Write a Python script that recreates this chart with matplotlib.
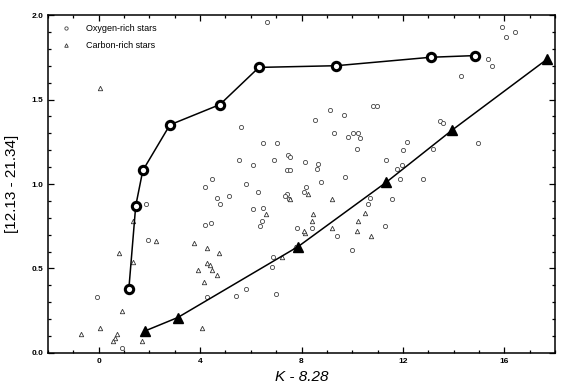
import numpy as np
import matplotlib
matplotlib.use("Agg")
import matplotlib.pyplot as plt
from matplotlib.ticker import MultipleLocator

plt.rcParams['font.family'] = ['Liberation Sans', 'DejaVu Sans']

# upper envelope (oxygen-rich) and lower envelope (carbon-rich)
o_line_x = [1.19, 1.46, 1.74, 2.81, 4.78, 6.32, 9.37, 13.10, 14.86]
o_line_y = [0.38, 0.87, 1.08, 1.35, 1.47, 1.69, 1.70, 1.75, 1.76]
c_line_x = [1.82, 3.12, 7.87, 11.34, 13.95, 17.70]
c_line_y = [0.13, 0.21, 0.63, 1.01, 1.32, 1.74]

# oxygen-rich stars
ox = [6.64, 15.89, 16.05, 16.44, 15.34, 15.53, 14.31, 10.83, 10.99, 9.13,
      8.54, 9.68, 5.61, 9.29, 9.84, 10.04, 10.24, 10.32, 10.20, 12.17,
      12.02, 6.48, 7.04, 5.53, 6.09, 6.92, 7.47, 7.55, 8.14, 8.66,
      8.62, 11.34, 11.78, 11.98, 7.43, 7.55, 9.72, 11.90, 12.81, 4.47,
      8.77, 4.19, 8.18, 4.66, 5.14, 5.81, 6.28, 7.43, 7.51, 8.10,
      7.35, 10.71, 10.63, 11.58, 4.78, 6.09, 6.48, 6.44, 6.36, 4.19,
      4.43, 7.83, 8.42, 9.41, 11.30, 10.00, 6.88, 6.84, 7.00, 5.41,
      5.81, 1.86, 1.94, -0.08, 0.91, 13.48, 13.60, 13.20, 14.98, 4.27]
oy = [1.96, 1.93, 1.87, 1.90, 1.74, 1.70, 1.64, 1.46, 1.46, 1.44,
      1.38, 1.41, 1.34, 1.30, 1.28, 1.30, 1.30, 1.27, 1.21, 1.25,
      1.20, 1.24, 1.24, 1.14, 1.11, 1.14, 1.17, 1.16, 1.13, 1.12,
      1.09, 1.14, 1.09, 1.11, 1.08, 1.08, 1.04, 1.03, 1.03, 1.03,
      1.01, 0.98, 0.98, 0.92, 0.93, 1.00, 0.95, 0.94, 0.91, 0.95,
      0.93, 0.92, 0.88, 0.91, 0.88, 0.85, 0.86, 0.78, 0.75, 0.76,
      0.77, 0.74, 0.74, 0.69, 0.75, 0.61, 0.57, 0.51, 0.35, 0.34,
      0.38, 0.88, 0.67, 0.33, 0.03, 1.37, 1.36, 1.21, 1.24, 0.33]

# carbon-rich stars
cx = [0.04, -0.71, 0.04, 0.63, 0.71, 0.55, 0.79, 0.91, 1.34, 1.34,
      1.70, 2.25, 3.75, 4.27, 4.74, 3.91, 4.15, 4.27, 4.39, 4.47,
      4.66, 4.07, 7.23, 7.83, 7.75, 8.14, 8.10, 7.55, 8.26, 9.21,
      10.51, 8.46, 8.42, 9.21, 10.24, 10.20, 10.75, 6.60]
cy = [1.57, 0.11, 0.15, 0.09, 0.11, 0.07, 0.59, 0.25, 0.54, 0.78,
      0.07, 0.66, 0.65, 0.62, 0.59, 0.49, 0.42, 0.53, 0.52, 0.49,
      0.46, 0.15, 0.57, 0.63, 0.63, 0.71, 0.72, 0.91, 0.94, 0.91,
      0.83, 0.82, 0.78, 0.74, 0.78, 0.72, 0.69, 0.82]

fig = plt.figure(figsize=(5.7, 3.91), dpi=100)
ax = fig.add_axes([0.0842, 0.0972, 0.8895, 0.8644])

ax.plot(ox, oy, linestyle='none', marker='o', ms=3.0, mfc='white',
        mec='#444444', mew=0.6, label='Oxygen-rich stars')
ax.plot(cx, cy, linestyle='none', marker='^', ms=3.2, mfc='white',
        mec='#333333', mew=0.6, label='Carbon-rich stars')

ax.plot(o_line_x, o_line_y, color='black', lw=1.1, marker='o', ms=6.0,
        mfc='white', mec='black', mew=2.2, zorder=5)
ax.plot(c_line_x, c_line_y, color='black', lw=1.1, marker='^', ms=6.5,
        mfc='black', mec='black', zorder=5)

ax.set_xlim(-2, 18)
ax.set_ylim(0, 2.0)
ax.xaxis.set_major_locator(MultipleLocator(4))
ax.xaxis.set_minor_locator(MultipleLocator(1))
ax.yaxis.set_major_locator(MultipleLocator(0.5))
ax.yaxis.set_minor_locator(MultipleLocator(0.1))
ax.set_xticks([0, 4, 8, 12, 16])
ax.set_xticklabels(['0', '4', '8', '12', '16'])
ax.set_yticks([0, 0.5, 1.0, 1.5, 2.0])
ax.set_yticklabels(['0.0', '0.5', '1.0', '1.5', '2.0'])
ax.tick_params(which='both', direction='in', top=True, right=True,
               labelsize=6, width=0.9)
ax.tick_params(which='major', length=4)
ax.tick_params(which='minor', length=2)
for lab in ax.get_xticklabels() + ax.get_yticklabels():
    lab.set_fontweight('bold')
for s in ax.spines.values():
    s.set_linewidth(1.1)

ax.set_xlabel('K - 8.28', fontsize=11, style='italic', labelpad=4)
ax.set_ylabel('[12.13 - 21.34]', fontsize=11, labelpad=9)

ax.legend(loc='upper left', frameon=False, fontsize=6.5, handletextpad=1.2,
          borderaxespad=0.6, labelspacing=0.9, markerscale=0.8)

fig.savefig('out.png', dpi=100)
